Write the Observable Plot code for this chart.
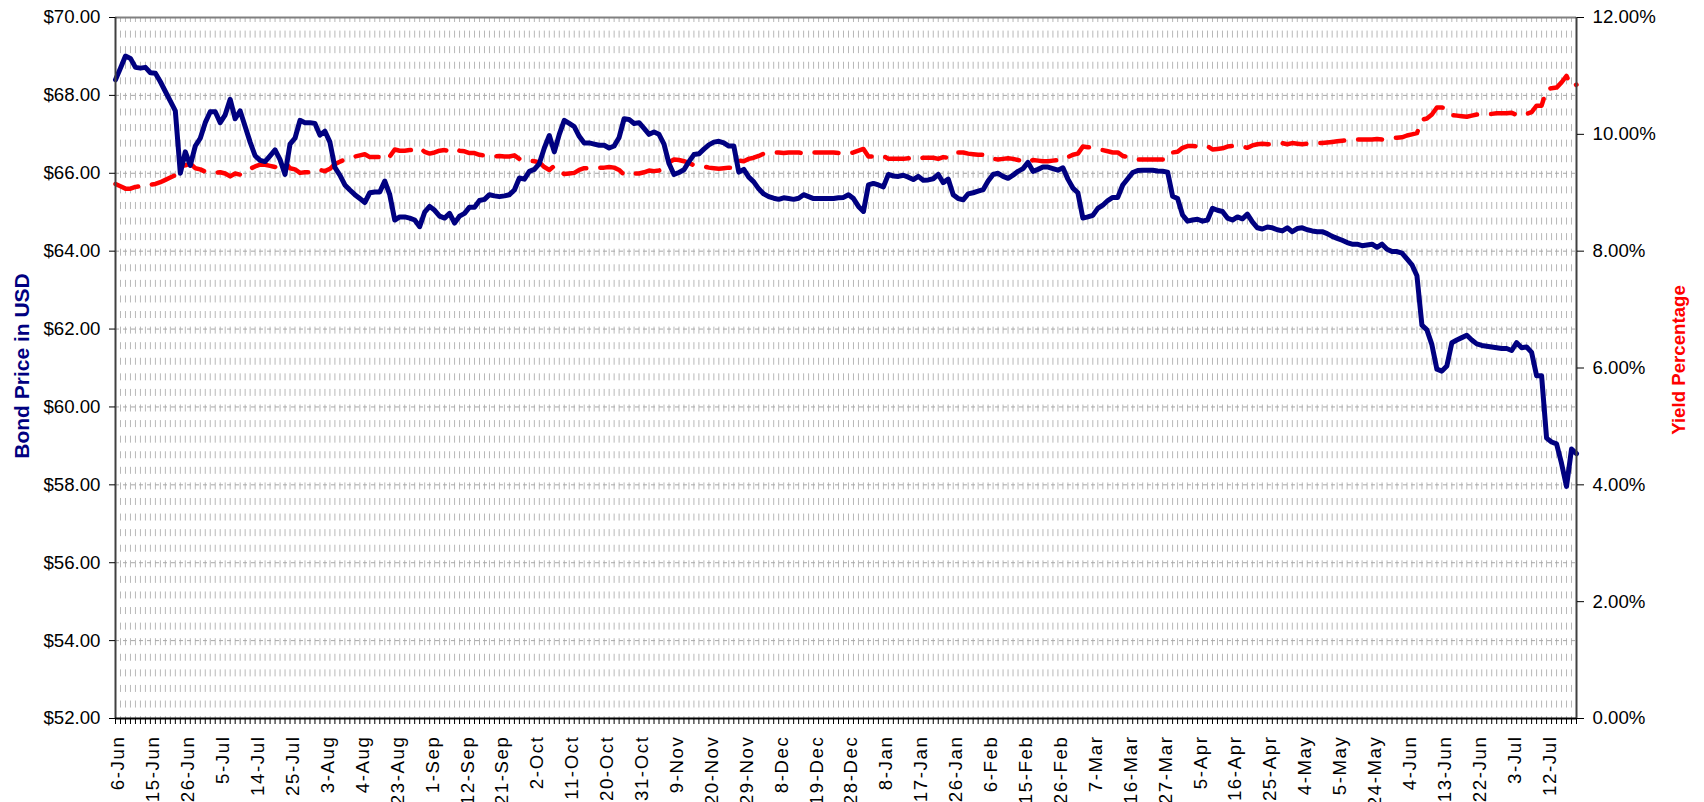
<!DOCTYPE html>
<html><head><meta charset="utf-8">
<script src="https://cdn.jsdelivr.net/npm/d3@7"></script>
<script src="https://cdn.jsdelivr.net/npm/@observablehq/plot@0.6"></script>
<style>
html,body{margin:0;padding:0;background:#fff;}
#chart{width:1704px;height:802px;overflow:hidden;}
</style></head><body><div id="chart"></div>
<script>
// Bond price in USD, one value per trading day (6-Jun to 20-Jul)
const priceValues = [
68.40,68.70,69.01,68.95,68.72,68.70,68.72,68.58,68.57,68.35,
68.10,67.85,67.60,66.00,66.55,66.20,66.70,66.90,67.30,67.58,
67.58,67.30,67.50,67.90,67.40,67.60,67.20,66.80,66.45,66.33,
66.30,66.45,66.60,66.35,65.97,66.75,66.90,67.36,67.30,67.30,
67.28,66.98,67.08,66.80,66.15,65.95,65.70,65.57,65.45,65.35,
65.25,65.50,65.52,65.52,65.80,65.45,64.80,64.88,64.88,64.85,
64.80,64.63,65.00,65.15,65.05,64.90,64.85,64.97,64.72,64.90,
64.97,65.13,65.13,65.30,65.33,65.45,65.42,65.40,65.42,65.45,
65.57,65.88,65.85,66.05,66.10,66.25,66.65,66.97,66.55,67.00,
67.36,67.28,67.20,66.95,66.78,66.78,66.75,66.72,66.72,66.65,
66.70,66.92,67.40,67.38,67.28,67.30,67.15,67.00,67.06,67.00,
66.75,66.25,65.97,66.02,66.09,66.30,66.48,66.50,66.62,66.73,
66.80,66.82,66.78,66.70,66.70,66.03,66.10,65.90,65.78,65.60,
65.47,65.40,65.36,65.33,65.37,65.35,65.33,65.36,65.45,65.40,
65.35,65.35,65.35,65.35,65.35,65.37,65.38,65.45,65.35,65.15,
65.02,65.70,65.74,65.70,65.65,65.97,65.93,65.92,65.95,65.90,
65.84,65.92,65.82,65.83,65.86,65.97,65.76,65.85,65.45,65.35,
65.32,65.47,65.50,65.54,65.58,65.80,65.97,66.00,65.92,65.87,
65.95,66.05,66.12,66.28,66.05,66.10,66.16,66.16,66.12,66.08,
66.14,65.85,65.62,65.50,64.85,64.88,64.92,65.10,65.18,65.30,
65.38,65.38,65.70,65.86,66.02,66.07,66.08,66.08,66.08,66.06,
66.05,66.03,65.41,65.35,64.93,64.77,64.80,64.82,64.77,64.80,
65.10,65.05,65.02,64.85,64.80,64.88,64.83,64.95,64.75,64.60,
64.57,64.62,64.60,64.55,64.52,64.60,64.50,64.58,64.60,64.55,
64.52,64.50,64.50,64.45,64.38,64.33,64.28,64.22,64.18,64.18,
64.14,64.16,64.18,64.10,64.18,64.05,63.99,63.99,63.95,63.80,
63.65,63.37,62.10,61.98,61.60,60.97,60.92,61.05,61.65,61.72,
61.78,61.84,61.72,61.62,61.58,61.56,61.54,61.52,61.50,61.50,
61.45,61.65,61.52,61.54,61.40,60.80,60.80,59.20,59.10,59.05,
58.55,57.96,58.92,58.80
];
// Yield percentage, one value per trading day
const yieldValues = [
9.15,9.11,9.07,9.07,9.10,9.11,9.11,9.14,9.15,9.18,
9.22,9.26,9.30,9.45,9.47,9.50,9.42,9.40,9.36,9.34,
9.34,9.35,9.33,9.28,9.33,9.31,9.36,9.41,9.45,9.48,
9.48,9.46,9.44,9.47,9.52,9.42,9.40,9.34,9.35,9.35,
9.35,9.39,9.37,9.41,9.49,9.53,9.57,9.60,9.62,9.64,
9.66,9.61,9.61,9.61,9.56,9.62,9.74,9.72,9.72,9.73,
9.74,9.77,9.70,9.67,9.69,9.72,9.73,9.71,9.75,9.72,
9.71,9.68,9.68,9.65,9.64,9.62,9.62,9.63,9.62,9.62,
9.64,9.58,9.59,9.55,9.54,9.52,9.44,9.39,9.46,9.38,
9.32,9.33,9.34,9.39,9.42,9.42,9.43,9.43,9.43,9.44,
9.43,9.39,9.31,9.31,9.33,9.33,9.35,9.38,9.37,9.38,
9.43,9.52,9.57,9.56,9.54,9.51,9.47,9.47,9.45,9.43,
9.42,9.41,9.42,9.43,9.43,9.55,9.54,9.58,9.60,9.63,
9.67,9.68,9.69,9.69,9.68,9.69,9.69,9.69,9.67,9.68,
9.69,9.69,9.69,9.69,9.69,9.68,9.68,9.67,9.69,9.72,
9.75,9.62,9.62,9.62,9.63,9.58,9.58,9.58,9.58,9.59,
9.60,9.58,9.60,9.60,9.60,9.58,9.61,9.60,9.67,9.69,
9.69,9.67,9.66,9.65,9.65,9.61,9.58,9.57,9.58,9.59,
9.58,9.56,9.55,9.52,9.56,9.55,9.54,9.54,9.55,9.56,
9.56,9.61,9.65,9.67,9.79,9.78,9.77,9.74,9.73,9.71,
9.69,9.69,9.63,9.61,9.58,9.57,9.57,9.57,9.57,9.57,
9.57,9.57,9.69,9.70,9.77,9.80,9.80,9.79,9.80,9.80,
9.74,9.75,9.76,9.79,9.80,9.78,9.79,9.77,9.81,9.83,
9.84,9.83,9.83,9.84,9.85,9.83,9.85,9.84,9.83,9.84,
9.85,9.85,9.85,9.86,9.87,9.88,9.89,9.90,9.91,9.91,
9.91,9.91,9.91,9.92,9.91,9.93,9.94,9.94,9.95,9.98,
10.00,10.02,10.25,10.27,10.34,10.46,10.46,10.44,10.33,10.32,
10.31,10.30,10.32,10.34,10.35,10.35,10.35,10.36,10.36,10.36,
10.37,10.33,10.36,10.35,10.38,10.49,10.49,10.77,10.79,10.80,
10.89,11.00,10.82,10.85
];
// Category labels shown on every 7th trading day
const tickLabels = ["6-Jun","15-Jun","26-Jun","5-Jul","14-Jul","25-Jul","3-Aug","4-Aug","23-Aug","1-Sep","12-Sep","21-Sep","2-Oct","11-Oct","20-Oct","31-Oct","9-Nov","20-Nov","29-Nov","8-Dec","19-Dec","28-Dec","8-Jan","17-Jan","26-Jan","6-Feb","15-Feb","26-Feb","7-Mar","16-Mar","27-Mar","5-Apr","16-Apr","25-Apr","4-May","5-May","24-May","4-Jun","13-Jun","22-Jun","3-Jul","12-Jul"];
const labelEvery = 7;
const priceTicks = [52,54,56,58,60,62,64,66,68,70];
const yieldTicks = [0,2,4,6,8,10,12];
const leftTitle = "Bond Price in USD";
const rightTitle = "Yield Percentage";

const N = priceValues.length;
const idx = d3.range(N);
const priceMin = 52, priceMax = 70, yieldMax = 12;
// right axis is a linear re-mapping of the left (price) scale
const yieldToPrice = v => priceMin + v * (priceMax - priceMin) / yieldMax;
const priceToYield = p => (p - priceMin) * yieldMax / (priceMax - priceMin);
const data = idx.map(i => ({i, price: priceValues[i], yld: yieldValues[i]}));

const font = "'Liberation Sans', Arial, Helvetica, sans-serif";
const chart = Plot.plot({
  width: 1704, height: 802,
  marginLeft: 115, marginRight: 128, marginTop: 17, marginBottom: 84,
  style: {fontFamily: font, fontSize: "18.67px", color: "#000", background: "#fff", overflow: "visible"},
  x: {type: "linear", domain: [0, N - 1]},
  y: {domain: [priceMin, priceMax]},
  marks: [
    Plot.ruleX(idx, {x: d => d, stroke: "#b8b8b8", strokeWidth: 1, strokeDasharray: "7,8.58", strokeDashoffset: 2}),
    Plot.ruleY(priceTicks, {y: d => d, stroke: "#a8a8a8", strokeWidth: 1, strokeDasharray: "4,4"}),
    Plot.line(data, {x: "i", y: d => yieldToPrice(d.yld), stroke: "#ff0000", strokeWidth: 4.5, strokeDasharray: "24,14", strokeLinejoin: "round"}),
    Plot.line(data, {x: "i", y: "price", stroke: "#000080", strokeWidth: 5, strokeLinejoin: "round", strokeLinecap: "round"}),
    Plot.ruleY([priceMax], {stroke: "#808080", strokeWidth: 2}),
    Plot.ruleX([0], {stroke: "#404040", strokeWidth: 2}),
    Plot.ruleX([N - 1], {stroke: "#404040", strokeWidth: 2}),
    Plot.ruleY([priceMin], {stroke: "#000", strokeWidth: 2}),
    Plot.axisY(priceTicks, {anchor: "left", tickSize: 6, tickPadding: 9, label: null, stroke: "#000",
      tickFormat: d => "$" + d.toFixed(2)}),
    Plot.axisY(yieldTicks.map(yieldToPrice), {anchor: "right", tickSize: 7, tickPadding: 9, label: null, stroke: "#000",
      tickFormat: d => priceToYield(d).toFixed(2) + "%"}),
    Plot.axisX(idx, {anchor: "bottom", tickSize: 6, tickPadding: 11, tickRotate: -90, label: null, stroke: "#000",
      tickFormat: d => d % labelEvery === 0 ? (tickLabels[d / labelEvery] ?? "") : ""}),
    Plot.text([leftTitle], {frameAnchor: "left", textAnchor: "middle", dx: -93, dy: -2, rotate: -90, fill: "#000080", fontWeight: "bold", fontSize: 21}),
    Plot.text([rightTitle], {frameAnchor: "right", textAnchor: "middle", dx: 103, dy: -8, rotate: -90, fill: "#ff0000", fontWeight: "bold", fontSize: 18.67})
  ]
});
document.getElementById("chart").appendChild(chart);
d3.select(chart).selectAll('g[aria-label="x-axis tick label"]').attr("transform", function(){
  const t = d3.select(this).attr("transform") || "";
  return t + " translate(3,0)";
}).style("letter-spacing", "1.6px");
</script>
</body></html>
